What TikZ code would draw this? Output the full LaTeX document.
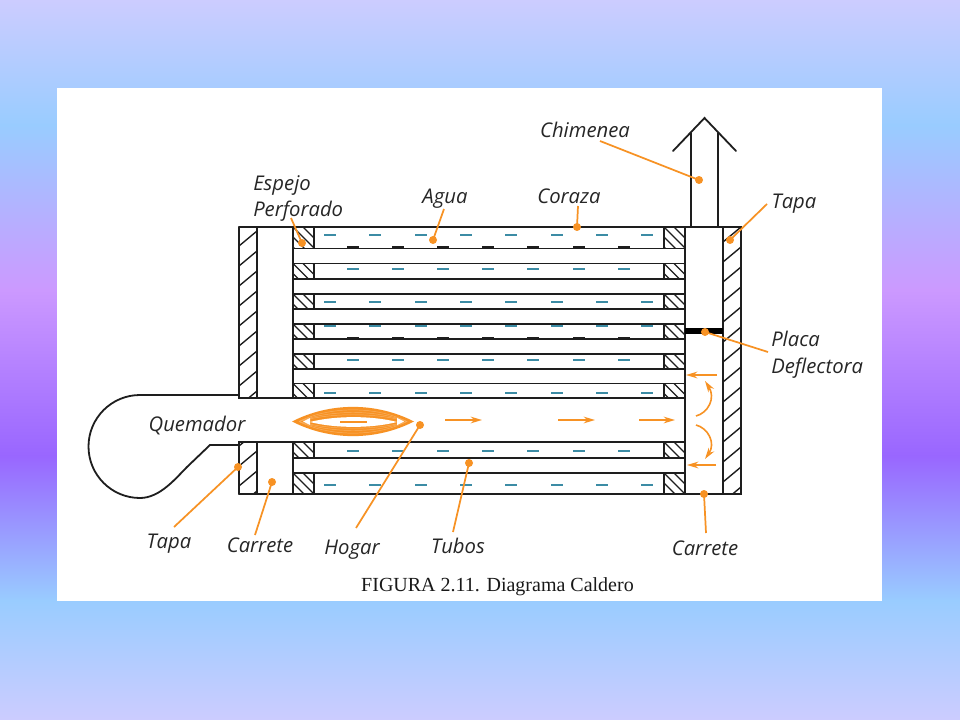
\documentclass[tikz,border=0pt]{standalone}
\usepackage{fontspec}
\setmainfont{Liberation Serif}
\newfontfamily\cadfont{Open Sans}
\usetikzlibrary{arrows.meta}
\definecolor{bgA}{RGB}{204,204,255}
\definecolor{bgB}{RGB}{153,204,255}
\definecolor{bgC}{RGB}{204,153,255}
\definecolor{bgD}{RGB}{153,102,255}
\definecolor{flameor}{RGB}{247,146,36}
\definecolor{waterteal}{RGB}{60,140,165}
\definecolor{inkline}{RGB}{30,30,30}
\tikzset{
  wall/.style={draw=inkline,line width=1.35pt,line cap=round},
  hatchline/.style={draw=inkline,line width=1.05pt},
  callout/.style={font=\cadfont\itshape\fontsize{15.2}{18.6}\selectfont,text=black!85,inner sep=0pt},
  leaderline/.style={draw=flameor,line width=1.3pt},
  leaderdot/.style={fill=flameor,circle,inner sep=0pt,minimum size=6pt},
  flowline/.style={draw=flameor,line width=1.2pt,-{Stealth[length=8.5pt,width=5pt]}},
  wdash/.style={draw=waterteal,line width=1.05pt},
  bdash/.style={draw=inkline,line width=1.25pt}
}
\newcommand{\sheetblock}[3]{%
  \begin{scope}
    \clip (#1,#2) rectangle (#1+21,#3);
    \foreach \o in {-40,-30,...,30} \draw[hatchline] (#1+\o,#2) -- ++(40,40);
  \end{scope}
  \draw[wall] (#1,#2) rectangle (#1+21,#3);
}
\newcommand{\tapablock}[4]{%
  \begin{scope}
    \clip (#1,#2) rectangle (#1+18,#3);
    \foreach \k in {0,...,13} \draw[hatchline] (#1,#4+20*\k) -- ++(18,-15);
  \end{scope}
}
\begin{document}
\begin{tikzpicture}[x=0.75pt,y=-0.75pt]
\useasboundingbox (0,0) rectangle (960,720);
% background
\shade[top color=bgA,bottom color=bgB] (0,0) rectangle (960,126);
\shade[top color=bgB,bottom color=bgC] (0,125) rectangle (960,291);
\shade[top color=bgC,bottom color=bgD] (0,290) rectangle (960,456);
\shade[top color=bgD,bottom color=bgB] (0,455) rectangle (960,601);
\shade[top color=bgB,bottom color=bgA] (0,600) rectangle (960,720);
\fill[white] (57,88) rectangle (882,601);
% tapas
\tapablock{239}{227}{398}{246}
\tapablock{239}{442}{494}{246}
\tapablock{723}{227}{494}{242}
% tube sheets
\foreach \a/\b in {227/248.5,263.5/279,294/309,324/339,354/369,383.5/398,442/458,473/494}{
  \sheetblock{293}{\a}{\b}
  \sheetblock{664}{\a}{\b}
}
% shell outline
\draw[wall] (239,227) -- (741,227) -- (741,494) -- (239,494);
\draw[wall] (239,227) -- (239,398) -- (685,398);
\draw[wall] (239,494) -- (239,442) -- (685,442);
\draw[wall] (257,227) -- (257,398) (257,442) -- (257,494);
\draw[wall] (293,227) -- (293,398) (293,442) -- (293,494);
\draw[wall] (685,227) -- (685,494);
\draw[wall] (723,227) -- (723,494);
% tubes
\foreach \y in {248.5,263.5,279,294,309,324,339,354,369,383.5,458,473}
  \draw[wall] (293,\y) -- (685,\y);
% baffle
\fill[black] (685,328) rectangle (723,334);
% chimney
\draw[wall] (691,227) -- (691,133) (718,227) -- (718,133);
\draw[wall] (673,151) -- (704.5,118) -- (736,151);
% burner
\draw[wall] (239,395) -- (140,395) arc[start angle=-90,end angle=-270,radius=51.5]
  .. controls (160,498) and (176,478) .. (187,467) -- (210,445) -- (239,445);
% water dashes
\foreach \y in {235,302,326,393,485}
  \foreach \x in {330,375,421,466,511,557,602,647}
    \draw[wdash] (\x-6,\y) -- (\x+6,\y);
\foreach \y in {269,360,451}
  \foreach \x in {353,398,443,488,533,579,624}
    \draw[wdash] (\x-6,\y) -- (\x+6,\y);
\foreach \y in {247,338}
  \foreach \x in {353,398,443,488,533,579,624}
    \draw[bdash] (\x-6,\y) -- (\x+6,\y);
% flame
\fill[flameor] (292,421.5) .. controls (330,402) and (376,402) .. (414,421.5)
  .. controls (376,441) and (330,441) .. (292,421.5) -- cycle;
\foreach \c in {406,409.5,412.5}{
  \draw[flameor!72,line width=0.35pt] (299,421.5) .. controls (330,\c) and (376,\c) .. (407,421.5);
  \draw[flameor!72,line width=0.35pt] (299,421.5) .. controls (330,843-\c) and (376,843-\c) .. (407,421.5);
}
\fill[white] (310,422) .. controls (335,415.5) and (372,415.5) .. (397,422)
  .. controls (372,428.5) and (335,428.5) .. (310,422) -- cycle;
\fill[white] (303,421.5) -- (310,418) -- (310,425) -- cycle;
\fill[white] (404,421.5) -- (397,418) -- (397,425) -- cycle;
\draw[flameor,line width=1.5pt] (340,421.5) -- (367,421.5);
% flow arrows
\coordinate (fa1s) at (445,420); \coordinate (fa1e) at (482,420);
\coordinate (fa2s) at (558,420); \coordinate (fa2e) at (595,420);
\coordinate (fa3s) at (639,420); \coordinate (fa3e) at (675,420);
\coordinate (fa4s) at (717,375); \coordinate (fa4e) at (686,375);
\coordinate (fa5s) at (716,465); \coordinate (fa5e) at (687,465);
\coordinate (fc1s) at (696,416); \coordinate (fc1e) at (705,381);
\coordinate (fc2s) at (696,425); \coordinate (fc2e) at (705,459);
\foreach \i in {1,...,5} \draw[flowline] (fa\i s) -- (fa\i e);
\draw[flowline] (fc1s) .. controls (708,413) and (716,398) .. (fc1e);
\draw[flowline] (fc2s) .. controls (708,428) and (716,443) .. (fc2e);
% labels
\node[callout,align=left,anchor=north west] (lespejo) at (253,175) {Espejo\\[1.5pt]Perforado};
\node[callout] (lagua) at (445,199) {Agua};
\node[callout] (lcoraza) at (569,196) {Coraza};
\node[callout] (lchim) at (585,130) {Chimenea};
\node[callout] (ltapar) at (794,204) {Tapa};
\node[callout,align=left,anchor=north west] (lplaca) at (771,331) {Placa\\[1.5pt]Deflectora};
\node[callout] (lquem) at (197,426) {Quemador};
\node[callout] (ltapal) at (169,544) {Tapa};
\node[callout] (lcarl) at (260,545) {Carrete};
\node[callout] (lhogar) at (352,550) {Hogar};
\node[callout] (ltubos) at (458,546) {Tubos};
\node[callout] (lcarr) at (705,548) {Carrete};
\node[font=\fontsize{15}{18}\selectfont,text=black!90,inner sep=0pt] (caption) at (497.5,587) {FIGURA 2.11. Diagrama Caldero};
% leader dots
\node[leaderdot] (despejo) at (302,243) {};
\node[leaderdot] (dagua) at (433,240) {};
\node[leaderdot] (dcoraza) at (577,227) {};
\node[leaderdot] (dchim) at (699,180) {};
\node[leaderdot] (dtapar) at (730,240) {};
\node[leaderdot] (dplaca) at (705,332) {};
\node[leaderdot] (dcarr) at (704,494) {};
\node[leaderdot] (dtubos) at (469,463) {};
\node[leaderdot] (dhogar) at (420,425) {};
\node[leaderdot] (dcarl) at (272,482) {};
\node[leaderdot] (dtapal) at (238,467) {};
% leader starts
\coordinate (sespejo) at (291,218);
\coordinate (sagua) at (444,209);
\coordinate (scoraza) at (578,206);
\coordinate (schim) at (600,141);
\coordinate (stapar) at (767,204);
\coordinate (splaca) at (768,352);
\coordinate (scarr) at (706,533);
\coordinate (stubos) at (453,532);
\coordinate (shogar) at (356,528);
\coordinate (scarl) at (255,535);
\coordinate (stapal) at (174,527);
\foreach \n in {espejo,agua,coraza,chim,tapar,placa,carr,tubos,hogar,carl,tapal}
  \draw[leaderline] (s\n) -- (d\n.center);
\end{tikzpicture}
\end{document}
